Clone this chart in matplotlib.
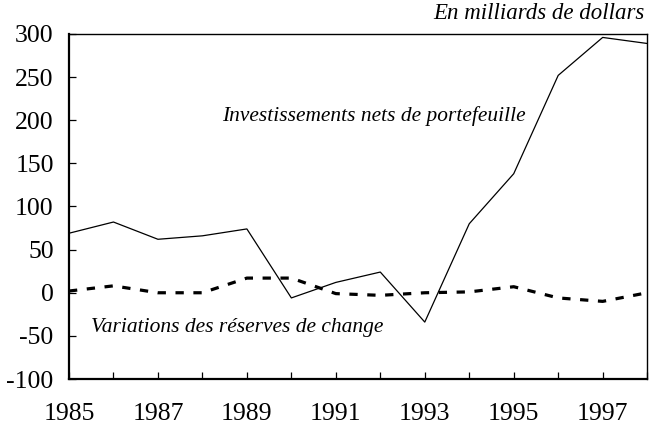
import matplotlib.pyplot as plt

annees = list(range(1985, 1999))
# Investissements nets de portefeuille (milliards de dollars)
portefeuille = [69, 82, 62, 66, 74, -6, 12, 24, -34, 80, 138, 252, 296, 289]
# Variations des réserves de change
reserves = [2, 8, 0, 0, 17, 17, -1, -3, 0, 1, 7, -6, -10, 0]

plt.rcParams['font.family'] = ['Liberation Serif', 'DejaVu Serif']
plt.rcParams['axes.unicode_minus'] = False

fig = plt.figure(figsize=(6.57, 4.34), dpi=100)
ax = fig.add_axes([0.105, 0.1267, 0.88, 0.795])

ax.plot(annees, portefeuille, color='black', linewidth=0.9)
ax.plot(annees, reserves, color='black', linewidth=2.3, linestyle=(0, (2.6, 3)))

ax.set_xlim(1985, 1998)
ax.set_ylim(-100, 300)
ax.set_yticks(range(-100, 301, 50))
ax.set_xticks(annees)
ax.set_xticklabels([str(a) if (a - 1985) % 2 == 0 else '' for a in annees])
ax.tick_params(axis='both', direction='in', length=5, width=0.9, labelsize=18.5, colors='black')
ax.tick_params(axis='x', pad=17)
ax.tick_params(axis='y', pad=11)
for s in ['left', 'bottom']:
    ax.spines[s].set_linewidth(1.6)
for s in ['top', 'right']:
    ax.spines[s].set_linewidth(1.0)

ax.text(1997.95, 311, "En milliards de dollars", ha='right', va='bottom',
        fontsize=16.5, style='italic')
ax.text(1991.86, 205, "Investissements nets de portefeuille", ha='center', va='center',
        fontsize=15.4, style='italic')
ax.text(1988.78, -40, "Variations des réserves de change", ha='center', va='center',
        fontsize=15.5, style='italic')

fig.savefig('out.png', dpi=100)
